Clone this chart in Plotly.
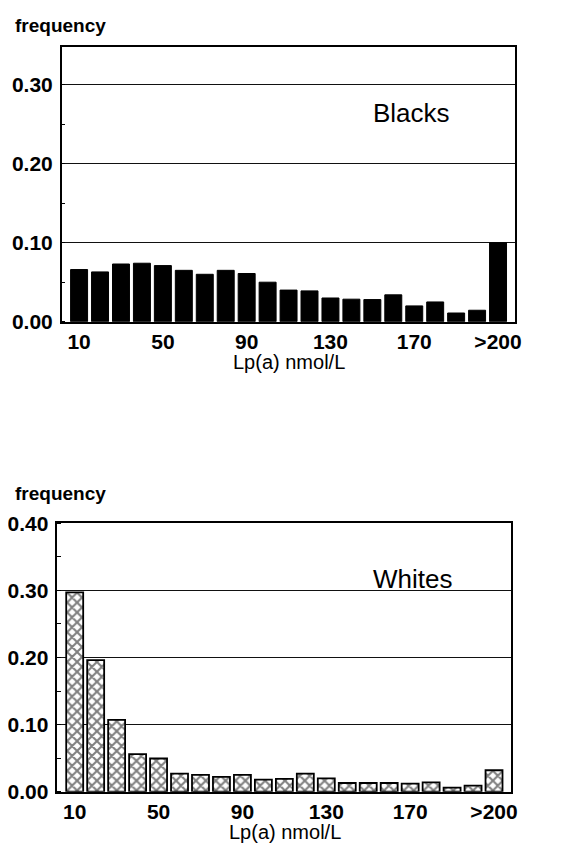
import plotly.graph_objects as go

categories = ["10", "20", "30", "40", "50", "60", "70", "80", "90", "100",
              "110", "120", "130", "140", "150", "160", "170", "180", "190", "200", ">200"]
tick_labels = ["10", "50", "90", "130", "170", ">200"]
tick_cats = ["10", "50", "90", "130", "170", ">200"]

blacks = [0.066, 0.063, 0.073, 0.074, 0.071, 0.065, 0.060, 0.065, 0.061, 0.050,
          0.040, 0.039, 0.030, 0.0285, 0.028, 0.034, 0.020, 0.025, 0.011, 0.0145, 0.100]
whites = [0.297, 0.196, 0.107, 0.056, 0.0495, 0.027, 0.025, 0.022, 0.025, 0.018,
          0.019, 0.027, 0.020, 0.013, 0.013, 0.013, 0.012, 0.014, 0.006, 0.009, 0.032]

W, H = 573, 850
OFF = 8  # page body margin
FONT = "Liberation Sans, Arial, sans-serif"

def px_x(p):
    return (p - OFF) / W

def px_y(p):
    return 1 - (p - OFF) / H

fig = go.Figure()
fig.add_trace(go.Bar(x=categories, y=blacks, xaxis="x", yaxis="y",
                     marker=dict(color="black", line=dict(color="black", width=1)),
                     showlegend=False))
fig.add_trace(go.Bar(x=categories, y=whites, xaxis="x2", yaxis="y2",
                     marker=dict(color="white", line=dict(color="black", width=1.8),
                                 pattern=dict(shape="x", fgcolor="black", bgcolor="white",
                                              size=7, solidity=0.5)),
                     showlegend=False))

xcommon = dict(type="category", range=[-0.83, 20.81], tickmode="array",
               tickvals=tick_cats, ticktext=tick_labels, showgrid=False,
               showline=True, linecolor="black", linewidth=1.5, mirror=True,
               ticks="", tickfont=dict(family=FONT, size=21, color="black", weight="bold"),
               zeroline=False, automargin=False)
ycommon = dict(showgrid=True, gridcolor="#111", gridwidth=1, showline=True,
               linecolor="black", linewidth=1.5, mirror=True, ticks="",
               tickformat=".2f", tickfont=dict(family=FONT, size=21, color="black", weight="bold"),
               zeroline=False, automargin=False, ticklabelstandoff=3,
               minor=dict(ticks="inside", dtick=0.05, ticklen=4, tickcolor="black", showgrid=False))

fig.update_layout(
    width=W, height=H, margin=dict(l=0, r=0, t=0, b=0, autoexpand=False),
    paper_bgcolor="white", plot_bgcolor="white", bargap=0.19,
    xaxis=dict(xcommon, domain=[px_x(61.7), px_x(515)], anchor="y"),
    yaxis=dict(ycommon, domain=[px_y(321.7), px_y(46.7)], range=[0, 0.348],
               tickvals=[0, 0.1, 0.2, 0.3], anchor="x"),
    xaxis2=dict(xcommon, domain=[px_x(57.3), px_x(511)], anchor="y2"),
    yaxis2=dict(ycommon, domain=[px_y(791.7), px_y(523.3)], range=[0, 0.40],
                tickvals=[0, 0.1, 0.2, 0.3, 0.4], anchor="x2"),
)

def ann(text, x, y, size, bold=False, xanchor="center"):
    fig.add_annotation(text=text, x=px_x(x), y=px_y(y), xref="paper", yref="paper",
                       xanchor=xanchor, yanchor="middle", showarrow=False,
                       font=dict(family=FONT, size=size, color="black",
                                 weight="bold" if bold else "normal"))

ann("frequency", 13, 25, 19, bold=True, xanchor="left")
ann("Blacks", 411.5, 113, 26)
ann("Lp(a) nmol/L", 288.5, 362, 20)
ann("frequency", 13, 493, 19, bold=True, xanchor="left")
ann("Whites", 412.5, 579, 26)
ann("Lp(a) nmol/L", 285, 832, 20)

fig.write_html("out.html")
